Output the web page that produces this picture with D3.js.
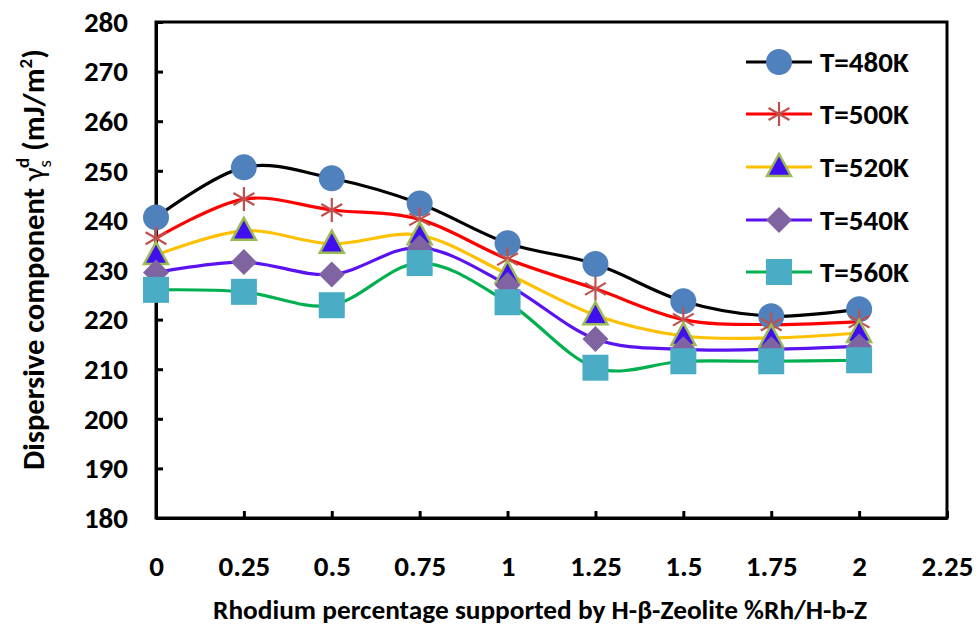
<!DOCTYPE html>
<html>
<head>
<meta charset="utf-8">
<script src="https://cdn.jsdelivr.net/npm/d3@7"></script>
<style>
  html, body { margin: 0; padding: 0; background: #fff; }
  svg text { font-family: Carlito, Calibri, Lato, "Open Sans", sans-serif; font-weight: bold; fill: #000; }
</style>
</head>
<body>
<svg id="chart" width="976" height="625"></svg>
<script>
// Rhodium loading (%Rh on H-beta zeolite)
const loadings = [0, 0.25, 0.5, 0.75, 1, 1.25, 1.5, 1.75, 2];
const xTicks = [0, 0.25, 0.5, 0.75, 1, 1.25, 1.5, 1.75, 2, 2.25];
const yTicks = [180, 190, 200, 210, 220, 230, 240, 250, 260, 270, 280];

// Dispersive surface energy (mJ/m2) at each column temperature
const seriesNames = ["T=480K", "T=500K", "T=520K", "T=540K", "T=560K"];
const t480 = [240.6, 250.7, 248.5, 243.4, 235.4, 231.2, 223.7, 220.7, 222.1];
const t500 = [236.4, 244.3, 242.1, 240.2, 232.2, 226.2, 220.0, 219.0, 219.6];
const t520 = [233.0, 237.9, 235.3, 237.0, 229.2, 220.9, 216.7, 216.3, 217.3];
const t540 = [229.5, 231.6, 229.1, 234.5, 227.0, 216.1, 214.0, 214.0, 214.6];
const t560 = [226.0, 225.6, 222.9, 231.4, 223.5, 210.3, 211.6, 211.6, 211.8];

const lineColors = ["#000000", "#ff0000", "#ffc000", "#5b12f0", "#00b050"];
const markerTypes = ["circle", "star", "triangle", "diamond", "square"];

const svg = d3.select("#chart");
const plot = { left: 156, right: 947, top: 22, bottom: 518 };

const x = d3.scaleLinear().domain([0, 2.25]).range([plot.left, plot.right]);
const y = d3.scaleLinear().domain([180, 280]).range([plot.bottom, plot.top]);

// Plot-area frame
svg.append("rect")
  .attr("x", plot.left).attr("y", plot.top)
  .attr("width", plot.right - plot.left).attr("height", plot.bottom - plot.top)
  .attr("fill", "none").attr("stroke", "#000").attr("stroke-width", 3);

// Axes with inward ticks
const xAxis = svg.append("g").attr("transform", `translate(0,${plot.bottom})`)
  .call(d3.axisBottom(x).tickValues(xTicks).tickSizeInner(-7).tickSizeOuter(0).tickPadding(37)
    .tickFormat(d => String(d)));
const yAxis = svg.append("g").attr("transform", `translate(${plot.left},0)`)
  .call(d3.axisLeft(y).tickValues(yTicks).tickSizeInner(-7).tickSizeOuter(0).tickPadding(28)
    .tickFormat(d3.format("d")));
[xAxis, yAxis].forEach(g => {
  g.select(".domain").attr("stroke", "#000").attr("stroke-width", 3);
  g.selectAll(".tick line").attr("stroke", "#000").attr("stroke-width", 3);
  g.selectAll(".tick text").style("font-size", "29px");
});

// Axis titles
svg.append("text")
  .attr("x", 213).attr("y", 619)
  .attr("textLength", 654).attr("lengthAdjust", "spacingAndGlyphs")
  .style("font-size", "26px")
  .text("Rhodium percentage supported by H-β-Zeolite %Rh/H-b-Z");

const yTitle = svg.append("text")
  .attr("transform", `translate(44,470) rotate(-90)`)
  .style("font-size", "30.5px");
yTitle.append("tspan").text("Dispersive component ");
yTitle.append("tspan").style("font-weight", "normal").text("γ");
yTitle.append("tspan").attr("dy", 7).style("font-size", "19px").style("font-weight", "normal").text("s");
yTitle.append("tspan").attr("dx", -8).attr("dy", -22).style("font-size", "19px").text("d");
yTitle.append("tspan").attr("dy", 15).text(" (mJ/m");
yTitle.append("tspan").attr("dy", -12).style("font-size", "19px").text("2");
yTitle.append("tspan").attr("dy", 12).text(")");

// Marker drawing
function drawMarker(g, type, cx, cy) {
  switch (type) {
    case "circle":
      g.append("circle").attr("cx", cx).attr("cy", cy).attr("r", 13).attr("fill", "#4f81bd");
      break;
    case "star": {
      const r = 12;
      const p = [[0, -r], [0, r], [-r * 0.87, -r * 0.5], [r * 0.87, r * 0.5], [-r * 0.87, r * 0.5], [r * 0.87, -r * 0.5]];
      for (let i = 0; i < 6; i += 2) {
        g.append("line").attr("x1", cx + p[i][0]).attr("y1", cy + p[i][1])
          .attr("x2", cx + p[i + 1][0]).attr("y2", cy + p[i + 1][1])
          .attr("stroke", "#c0504d").attr("stroke-width", 2.2);
      }
      break;
    }
    case "triangle":
      g.append("path")
        .attr("d", `M${cx},${cy - 13}L${cx + 12},${cy + 9}L${cx - 12},${cy + 9}Z`)
        .attr("fill", "#3f0ff0").attr("stroke", "#9bbb59").attr("stroke-width", 2.5)
        .attr("stroke-linejoin", "miter");
      break;
    case "diamond":
      g.append("path")
        .attr("d", `M${cx},${cy - 13}L${cx + 13},${cy}L${cx},${cy + 13}L${cx - 13},${cy}Z`)
        .attr("fill", "#8064a2");
      break;
    case "square":
      g.append("rect").attr("x", cx - 13).attr("y", cy - 13).attr("width", 26).attr("height", 26)
        .attr("fill", "#4bacc6");
      break;
  }
}

const allSeries = [t480, t500, t520, t540, t560];
const line = d3.line().x((d, i) => x(loadings[i])).y(d => y(d)).curve(d3.curveCardinal.tension(0));

// Lines first, then markers on top
allSeries.forEach((vals, k) => {
  svg.append("path").datum(vals).attr("d", line)
    .attr("fill", "none").attr("stroke", lineColors[k]).attr("stroke-width", 3.2);
});
allSeries.forEach((vals, k) => {
  const g = svg.append("g");
  vals.forEach((v, i) => drawMarker(g, markerTypes[k], x(loadings[i]), y(v)));
});

// Legend
const legendY = [62, 114, 167, 220, 272];
seriesNames.forEach((name, k) => {
  const g = svg.append("g");
  g.append("line").attr("x1", 746).attr("x2", 812).attr("y1", legendY[k]).attr("y2", legendY[k])
    .attr("stroke", lineColors[k]).attr("stroke-width", 3.2);
  drawMarker(g, markerTypes[k], 779, legendY[k]);
  g.append("text").attr("x", 820).attr("y", legendY[k] + 9.5)
    .style("font-size", "29px").text(name);
});
</script>
</body>
</html>
